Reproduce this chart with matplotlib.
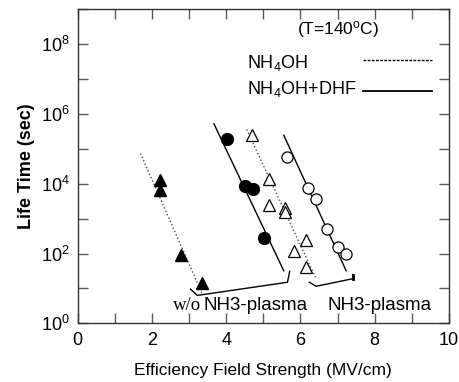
"""Life time vs efficiency field strength."""
import numpy as np
import matplotlib
matplotlib.use('Agg')
import matplotlib.pyplot as plt

plt.rcParams['font.family'] = ['Liberation Sans', 'DejaVu Sans']
plt.rcParams['mathtext.fontset'] = 'custom'
plt.rcParams['mathtext.rm'] = 'Liberation Sans'
plt.rcParams['mathtext.it'] = 'Liberation Sans'

# w/o NH3-plasma, NH4OH (filled triangles)
tri_f_x = [2.23, 2.23, 2.78, 3.34]
tri_f_y = [1.3e4, 6.6e3, 93, 14]
tri_f_fit_x = [1.69, 3.35]
tri_f_fit_y = [7.4e4, 7.1]

# w/o NH3-plasma, NH4OH+DHF (filled circles)
circ_f_x = [4.03, 4.51, 4.73, 5.03]
circ_f_y = [1.9e5, 8.7e3, 6.9e3, 280]
circ_f_fit_x = [3.67, 5.55]
circ_f_fit_y = [5.2e5, 32]

# NH3-plasma, NH4OH (open triangles)
tri_o_x = [4.69, 5.14, 5.14, 5.59, 5.59, 6.16, 5.82, 6.16]
tri_o_y = [2.5e5, 1.4e4, 2.5e3, 2.0e3, 1.6e3, 245, 122, 41]
tri_o_fit_x = [4.55, 6.40]
tri_o_fit_y = [3.6e5, 21]

# NH3-plasma, NH4OH+DHF (open circles)
circ_o_x = [5.63, 6.21, 6.42, 6.72, 7.00, 7.23]
circ_o_y = [5.9e4, 7.5e3, 3.7e3, 490, 158, 98]
circ_o_fit_x = [5.55, 7.23]
circ_o_fit_y = [2.45e5, 32]

# group brackets
wo_br_x = [3.04, 3.22, 5.65, 5.71]
wo_br_y = [9.5, 6.3, 15, 31]
nh3_br_x = [6.24, 6.42, 7.41, 7.41]
nh3_br_y = [15, 11.5, 19, 25]


def main():
    fig = plt.figure(figsize=(4.6, 3.82), dpi=100)
    ax = fig.add_axes([77.7 / 460, 1 - 323.3 / 382, (449 - 77.7) / 460, (323.3 - 9.3) / 382])

    ax.plot(tri_f_fit_x, tri_f_fit_y, color='0.3', ls=':', lw=1)
    ax.plot(circ_f_fit_x, circ_f_fit_y, color='black', ls='-', lw=1)
    ax.plot(tri_o_fit_x, tri_o_fit_y, color='0.3', ls=':', lw=1)
    ax.plot(circ_o_fit_x, circ_o_fit_y, color='black', ls='-', lw=1)

    ax.plot(tri_f_x, tri_f_y, ls='none', marker='^', ms=8, color='black')
    ax.plot(circ_f_x, circ_f_y, ls='none', marker='o', ms=8.5, color='black')
    ax.plot(tri_o_x, tri_o_y, ls='none', marker='^', ms=8, mfc='white', mec='black', mew=0.9)
    ax.plot(circ_o_x, circ_o_y, ls='none', marker='o', ms=8, mfc='white', mec='black', mew=0.9)

    ax.plot(wo_br_x, wo_br_y, color='black', lw=1)
    ax.plot(nh3_br_x, nh3_br_y, color='black', lw=1)
    ax.plot(nh3_br_x[2:], nh3_br_y[2:], color='black', lw=2)

    ax.set_yscale('log')
    ax.set_xlim(0, 10)
    ax.set_ylim(1, 1e9)

    decades = 10.0 ** np.arange(0, 10)
    ax.set_yticks(decades)
    ax.set_yticklabels(['$10^{%d}$' % k if k % 2 == 0 else '' for k in range(10)])
    ax.yaxis.set_minor_locator(matplotlib.ticker.NullLocator())
    ax.set_xticks([0, 2, 4, 6, 8, 10])
    ax.set_xticks([1, 3, 5, 7, 9], minor=True)
    ax.tick_params(which='both', direction='in', length=7, width=1, color='0.35',
                   top=True, right=True, labelsize=13, pad=6)
    for s in ax.spines.values():
        s.set_color('0.2')
        s.set_linewidth(1)

    ax.set_xlabel('Efficiency Field Strength (MV/cm)', fontsize=12.5, labelpad=10)
    ax.set_ylabel('Life Time (sec)', fontsize=13, fontweight='bold', labelpad=4)

    ax.text(338 / 460, 1 - 29 / 382, '(T=140$^{o}$C)', transform=fig.transFigure,
            fontsize=12.5, ha='center', va='center')
    ax.text(247 / 460, 1 - 63 / 382, 'NH$_{4}$OH', transform=fig.transFigure,
            fontsize=13, ha='left', va='center')
    ax.text(247 / 460, 1 - 89 / 382, 'NH$_{4}$OH+DHF', transform=fig.transFigure,
            fontsize=13, ha='left', va='center')
    fig.add_artist(plt.Line2D([363 / 460, 432 / 460], [1 - 60 / 382] * 2,
                              color='black', ls=(0, (2, 1)), lw=1))
    fig.add_artist(plt.Line2D([363 / 460, 432 / 460], [1 - 91 / 382] * 2,
                              color='black', ls='-', lw=1.3))

    ax.text(173 / 460, 1 - 306 / 382, 'w/o', transform=fig.transFigure, fontsize=13.5,
            family='Liberation Serif', ha='left', va='center')
    ax.text(204 / 460, 1 - 306 / 382, 'NH3-plasma', transform=fig.transFigure,
            fontsize=13.5, ha='left', va='center')
    ax.text(328 / 460, 1 - 306 / 382, 'NH3-plasma', transform=fig.transFigure,
            fontsize=13.5, ha='left', va='center')

    fig.savefig('out.png', dpi=100)


if __name__ == '__main__':
    main()
